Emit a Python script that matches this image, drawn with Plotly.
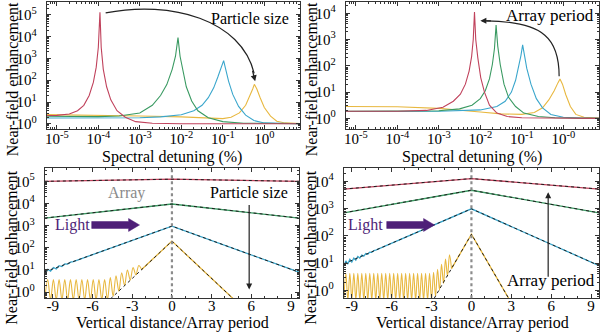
import plotly.graph_objects as go

W, H = 600, 336
FONT = "Liberation Serif"

RED = "#C0425C"
GREEN = "#3A9A62"
BLUE = "#3AA6CC"
YELLOW = "#E8B840"
DASHC = "#1e1e1e"
PURPLE = "#4E1F78"

# ---------------- top-left: spectral detuning, particle size sweep ----------------
TL_RED_X = [5.75e-6, 1e-5, 2e-5, 3.16e-5, 4.47e-5, 6.03e-5, 7.59e-5, 8.91e-5, 1.0e-4, 1.096e-4,
            1.175e-4, 1.318e-4, 1.585e-4, 2.0e-4, 2.82e-4, 4.47e-4, 7.94e-4, 2.0e-3, 1e-2, 7.24]
TL_RED_Y = [2.4, 2.45, 2.82, 3.98, 7.08, 19.95, 79.4, 398, 3162, 1.3e5,
            3162, 316, 50.1, 12.6, 3.98, 2.0, 1.26, 1.07, 1.0, 1.0]
TL_GREEN_X = [5.75e-6, 1e-4, 3.16e-4, 1e-3, 2.0e-3, 3.16e-3, 4.47e-3, 6.03e-3, 7.24e-3, 8.32e-3,
              9.33e-3, 1.096e-2, 1.318e-2, 1.778e-2, 2.51e-2, 4.47e-2, 0.1, 0.316, 7.24]
TL_GREEN_Y = [2.24, 2.14, 2.29, 3.16, 7.08, 19.95, 63.1, 316, 1259, 9000,
              1259, 251, 50.1, 11.2, 3.98, 1.9, 1.26, 1.07, 1.0]
TL_BLUE_X = [5.75e-6, 1e-4, 1e-3, 3.16e-3, 1e-2, 2.0e-2, 3.16e-2, 4.47e-2, 6.03e-2, 7.59e-2, 9.12e-2,
             0.1047, 0.1175, 0.138, 0.1738, 0.24, 0.355, 0.562, 1.0, 2.51, 7.24]
TL_BLUE_Y = [1.86, 1.86, 1.9, 2.09, 2.63, 3.98, 7.08, 15.8, 44.7, 141, 355,
             794, 316, 89.1, 22.4, 6.31, 2.51, 1.41, 1.1, 1.02, 1.0]
TL_YELLOW_X = [5.75e-6, 3.16e-5, 1e-4, 1e-3, 1e-2, 3.16e-2, 0.1, 0.158, 0.251, 0.355,
               0.447, 0.525, 0.575, 0.661, 0.794, 1.0, 1.413, 2.0, 3.16, 7.24]
TL_YELLOW_Y = [2.63, 2.57, 2.51, 2.29, 2.09, 1.86, 1.74, 2.0, 3.16, 7.08,
               17.8, 39.8, 65.0, 39.8, 15.8, 5.62, 2.24, 1.32, 1.1, 1.02]

# ---------------- top-right: spectral detuning, array period sweep ----------------
TR_RED_X = [5.75e-6, 1e-4, 5.01e-4, 1.26e-3, 2.24e-3, 3.31e-3, 4.37e-3, 5.37e-3, 6.17e-3, 6.76e-3,
            7.24e-3, 7.76e-3, 8.71e-3, 1.023e-2, 1.259e-2, 1.66e-2, 2.51e-2, 4.47e-2, 0.1, 7.24]
TR_RED_Y = [1.86, 1.86, 2.0, 2.63, 4.47, 8.32, 20, 63.1, 224, 1000,
            11220, 1000, 200, 35.5, 10, 3.16, 1.58, 1.17, 1.05, 1.0]
TR_GREEN_X = [5.75e-6, 1e-4, 1e-3, 3.16e-3, 6.31e-3, 1e-2, 1.318e-2, 1.66e-2, 1.95e-2, 2.19e-2,
              2.4e-2, 2.63e-2, 3.02e-2, 3.72e-2, 4.79e-2, 7.08e-2, 0.112, 0.251, 0.631, 7.24]
TR_GREEN_Y = [1.86, 1.86, 1.95, 2.29, 3.16, 5.62, 11.2, 31.6, 112, 447,
              3548, 562, 112, 20, 6.31, 2.82, 1.58, 1.17, 1.05, 1.0]
TR_BLUE_X = [5.75e-6, 1e-3, 1e-2, 2.51e-2, 3.98e-2, 5.62e-2, 7.08e-2, 8.51e-2, 9.55e-2, 0.1047,
             0.1148, 0.1318, 0.166, 0.224, 0.316, 0.501, 1.0, 2.51, 7.24]
TR_BLUE_Y = [1.82, 1.86, 2.09, 2.82, 4.47, 10, 28.2, 100, 251, 631,
             251, 79.4, 20, 5.62, 2.51, 1.41, 1.1, 1.02, 1.0]
TR_YELLOW_X = [5.75e-6, 1e-4, 1e-3, 3.16e-3, 1e-2, 3.16e-2, 0.1, 0.2, 0.316, 0.447,
               0.603, 0.741, 0.832, 0.955, 1.148, 1.479, 2.0, 3.16, 7.24]
TR_YELLOW_Y = [2.82, 2.75, 2.4, 2.09, 1.74, 1.48, 1.41, 1.66, 2.51, 5.01,
               11.2, 22.4, 31.6, 20, 7.94, 2.82, 1.41, 1.1, 1.02]

# ---------------- bottom-left: vertical profile, particle size sweep ----------------
BL_X = [-9.6, 0, 9.6]
BL_RED = [1.0e5, 1.25e5, 1.0e5]
BL_GREEN = [2.2e3, 9.5e3, 2.2e3]
BL_BLUE_FIT = [8.3, 950, 7.9]
BL_YELLOW_FIT = [8.1e-4, 200, 8.1e-4]
BL_BLUE_X = [-9.6, -9.385, -9.17, -8.955, -8.74, -8.525, -8.31, -8.095, -7.88, -7.665, -7.45, 0, 9.6]
BL_BLUE_Y = [7.1, 10.7, 8.9, 12.9, 11.2, 15.5, 14.3, 18.8, 18.2, 22.6, 23.9, 950, 7.9]
BL_YOSC_X = [-9.6, -9.385, -9.17, -8.955, -8.74, -8.525, -8.31, -8.095, -7.88, -7.665,
             -7.45, -7.235, -7.02, -6.805, -6.59, -6.375, -6.16, -5.945, -5.73, -5.515,
             -5.3, -5.085, -4.87, -4.655, -4.44, -4.225, -4.01, -3.795, -3.58, -3.365,
             -3.15, -2.935, -2.72, -2.505, -2.29]
BL_YOSC_Y = [0.45, 3.7, 0.45, 3.7, 0.45, 3.7, 0.45, 3.7, 0.45, 3.7,
             0.45, 3.7, 0.45, 3.7, 0.45, 3.7, 0.45, 3.7, 0.45, 3.7,
             0.45, 3.7, 0.45, 4.5, 0.65, 5.5, 1.1, 7.5, 2.0, 10,
             3.5, 13, 6.0, 16, 10.5]
BL_YLINE_X = [-2.29, 0, 9.6]
BL_YLINE_Y = [10.5, 200, 8.1e-4]

# ---------------- bottom-right: vertical profile, array period sweep ----------------
BR_X = [-9.6, 0, 9.6]
BR_RED = [5.2e3, 1.26e4, 5.2e3]
BR_GREEN = [700, 4.7e3, 700]
BR_BLUE_FIT = [9.4, 980, 8.1]
BR_YELLOW_FIT = [1e-6, 115, 1e-6]
BR_BLUE_X = [-9.6, -9.45, -9.3, -9.15, -9.0, -8.85, -8.7, -8.55, -8.4, -8.25, -8.1, -7.95,
             -7.8, -7.65, -7.5, -7.35, -7.2, 0, 9.6]
BR_BLUE_Y = [7.8, 12.0, 9.2, 13.7, 11.0, 15.4, 12.9, 17.6, 15.3, 19.7, 18.1, 22.4,
             21.2, 25.4, 25.0, 28.7, 30, 980, 8.1]
BR_YOSC_X = [-9.6, -9.45, -9.3, -9.15, -9.0, -8.85, -8.7, -8.55, -8.4, -8.25,
             -8.1, -7.95, -7.8, -7.65, -7.5, -7.35, -7.2, -7.05, -6.9, -6.75,
             -6.6, -6.45, -6.3, -6.15, -6.0, -5.85, -5.7, -5.55, -5.4, -5.25,
             -5.1, -4.95, -4.8, -4.65, -4.5, -4.35, -4.2, -4.05, -3.9, -3.75,
             -3.6, -3.45, -3.3, -3.15, -3.0, -2.85, -2.7, -2.55, -2.4, -2.25,
             -2.1, -1.95, -1.8, -1.65, -1.5]
BR_YOSC_Y = [0.45, 4.2, 0.45, 4.2, 0.45, 4.2, 0.45, 4.2, 0.45, 4.2,
             0.45, 4.2, 0.45, 4.2, 0.45, 4.2, 0.45, 4.2, 0.45, 4.2,
             0.45, 4.2, 0.45, 4.2, 0.45, 4.2, 0.45, 4.2, 0.45, 4.2,
             0.45, 4.2, 0.45, 4.2, 0.45, 4.2, 0.45, 4.2, 0.45, 4.2,
             0.45, 4.2, 0.45, 4.2, 0.45, 4.6, 0.6, 6.0, 1.0, 9.0,
             1.8, 14, 3.3, 20, 6.3]
BR_YLINE_X = [-1.5, 0, 9.6]
BR_YLINE_Y = [6.3, 115, 1e-6]

# ---------------- tick labels ----------------
DET_TICKS = [1e-5, 1e-4, 1e-3, 1e-2, 1e-1, 1]
TL_DET_LABELS = ["10<sup>-5</sup>", "10<sup>-4</sup>", "10<sup>-3</sup>", "10<sup>-2</sup>",
                 "10<sup>-1</sup>", "10<sup>0</sup>"]
TR_DET_LABELS = ["10<sup>-5</sup>", "10<sup>-4</sup>", "10<sup>-3</sup>", "10<sup>-2</sup>",
                 "10<sup>-1</sup>", "10<sup>-0</sup>"]
ENH5_TICKS = [1, 10, 100, 1e3, 1e4, 1e5]
ENH5_LABELS = ["10<sup>0</sup>", "10<sup>1</sup>", "10<sup>2</sup>", "10<sup>3</sup>",
               "10<sup>4</sup>", "10<sup>5</sup>"]
ENH4_TICKS = [1, 10, 100, 1e3, 1e4]
ENH4_LABELS = ["10<sup>0</sup>", "10<sup>1</sup>", "10<sup>2</sup>", "10<sup>3</sup>", "10<sup>4</sup>"]
DIST_TICKS = [-9, -6, -3, 0, 3, 6, 9]
DIST_LABELS = ["-9", "-6", "-3", "0", "3", "6", "9"]


def px(x):
    return x / W


def py(y):
    return 1 - y / H


fig = go.Figure()


def add(x, y, color, xa, ya, width=1.1, dash=None, shape="linear"):
    fig.add_trace(go.Scatter(x=x, y=y, mode="lines",
                             line=dict(color=color, width=width, dash=dash, shape=shape),
                             xaxis=xa, yaxis=ya, showlegend=False, hoverinfo="skip"))


# top-left
add(TL_YELLOW_X, TL_YELLOW_Y, YELLOW, "x", "y")
add(TL_BLUE_X, TL_BLUE_Y, BLUE, "x", "y")
add(TL_GREEN_X, TL_GREEN_Y, GREEN, "x", "y")
add(TL_RED_X, TL_RED_Y, RED, "x", "y")
# top-right
add(TR_YELLOW_X, TR_YELLOW_Y, YELLOW, "x2", "y2")
add(TR_BLUE_X, TR_BLUE_Y, BLUE, "x2", "y2")
add(TR_GREEN_X, TR_GREEN_Y, GREEN, "x2", "y2")
add(TR_RED_X, TR_RED_Y, RED, "x2", "y2")
# bottom-left
add(BL_YOSC_X, BL_YOSC_Y, YELLOW, "x3", "y3", 1.1, None, "spline")
add(BL_YLINE_X, BL_YLINE_Y, YELLOW, "x3", "y3", 1.3)
add(BL_BLUE_X, BL_BLUE_Y, BLUE, "x3", "y3", 1.3)
add(BL_X, BL_GREEN, GREEN, "x3", "y3", 1.3)
add(BL_X, BL_RED, RED, "x3", "y3", 1.3)
for ys in (BL_RED, BL_GREEN, BL_BLUE_FIT, BL_YELLOW_FIT):
    add(BL_X, ys, DASHC, "x3", "y3", 1.0, "3px,3px")
# bottom-right
add(BR_YOSC_X, BR_YOSC_Y, YELLOW, "x4", "y4", 1.1, None, "spline")
add(BR_YLINE_X, BR_YLINE_Y, YELLOW, "x4", "y4", 1.3)
add(BR_BLUE_X, BR_BLUE_Y, BLUE, "x4", "y4", 1.3)
add(BR_X, BR_GREEN, GREEN, "x4", "y4", 1.3)
add(BR_X, BR_RED, RED, "x4", "y4", 1.3)
for ys in (BR_RED, BR_GREEN, BR_BLUE_FIT, BR_YELLOW_FIT):
    add(BR_X, ys, DASHC, "x4", "y4", 1.0, "3px,3px")

common = dict(showline=True, linecolor="#333", linewidth=1, mirror="ticks", ticks="inside",
              ticklen=4, tickwidth=1, tickcolor="#333", showgrid=False, zeroline=False,
              tickfont=dict(family=FONT, size=15, color="black"), tickmode="array")
logminor = dict(ticks="inside", ticklen=2, tickcolor="#333", dtick="D1", showgrid=False)
linminor = dict(ticks="inside", ticklen=2, tickcolor="#333", dtick=1, showgrid=False)

top_dom = [py(130), py(2)]
bot_dom = [py(301), py(170)]

fig.update_layout(
    width=W, height=H, margin=dict(l=0, r=0, t=0, b=0),
    paper_bgcolor="white", plot_bgcolor="white",
    font=dict(family=FONT, color="black"),
    xaxis=dict(common, type="log", range=[-5.24, 0.86], domain=[px(45), px(299)], anchor="y",
               tickvals=DET_TICKS, ticktext=TL_DET_LABELS, minor=logminor, ticklabelstandoff=-4),
    yaxis=dict(common, type="log", range=[-0.23, 5.59], domain=top_dom, anchor="x",
               tickvals=ENH5_TICKS, ticktext=ENH5_LABELS, minor=logminor, ticklabelstandoff=6),
    xaxis2=dict(common, type="log", range=[-5.24, 0.86], domain=[px(345), px(599)], anchor="y2",
                tickvals=DET_TICKS, ticktext=TR_DET_LABELS, minor=logminor, ticklabelstandoff=-4),
    yaxis2=dict(common, type="log", range=[-0.40, 4.43], domain=top_dom, anchor="x2",
                tickvals=ENH4_TICKS, ticktext=ENH4_LABELS, minor=logminor, ticklabelstandoff=6),
    xaxis3=dict(common, type="linear", range=[-9.6, 9.6], domain=[px(43), px(298)], anchor="y3",
                tickvals=DIST_TICKS, ticktext=DIST_LABELS, minor=linminor, ticklabelstandoff=-6),
    yaxis3=dict(common, type="log", range=[-0.28, 5.58], domain=bot_dom, anchor="x3",
                tickvals=ENH5_TICKS, ticktext=ENH5_LABELS, minor=logminor, ticklabelstandoff=6),
    xaxis4=dict(common, type="linear", range=[-9.6, 9.6], domain=[px(343), px(599)], anchor="y4",
                tickvals=DIST_TICKS, ticktext=DIST_LABELS, minor=linminor, ticklabelstandoff=-6),
    yaxis4=dict(common, type="log", range=[-0.29, 4.47], domain=bot_dom, anchor="x4",
                tickvals=ENH4_TICKS, ticktext=ENH4_LABELS, minor=logminor, ticklabelstandoff=6),
)

ann = []


def text(t, x, y, size=16, color="black", angle=0):
    ann.append(dict(text=t, x=px(x), y=py(y), xref="paper", yref="paper", showarrow=False,
                    xanchor="center", yanchor="middle", textangle=angle,
                    font=dict(family=FONT, size=size, color=color)))


def arrow(x, y, ax, ay, color="#222", width=1.2, size=1.0):
    ann.append(dict(text="", x=px(x), y=py(y), xref="paper", yref="paper", showarrow=True,
                    ax=ax, ay=ay, arrowhead=2, arrowsize=size, arrowwidth=width,
                    arrowcolor=color, standoff=0, startstandoff=0))


# axis titles
for cx, cy in ((10, 80), (310, 80), (10, 250), (310, 250)):
    text("Near-field enhancement", cx, cy, 16, "black", -90)
text("Spectral detuning (%)", 171, 158)
text("Spectral detuning (%)", 472, 158)
text("Vertical distance/Array period", 171, 326)
text("Vertical distance/Array period", 472, 326)

# panel annotations
text("Particle size", 249, 19, 16)
text("Array period", 550, 16, 17)
text("Array", 125, 195, 16, "#8a8a8a")
text("Particle size", 248, 194, 16)
text("Light", 71, 227, 16, PURPLE)
text("Light", 365, 227, 16, PURPLE)
text("Array period", 551, 283, 17)

arrow(248, 292, 0, -86)
arrow(548, 194, 0, 86)
arrow(254, 82, -3, -12)
arrow(480, 21, 12, 0)

fig.update_layout(annotations=ann)


def ppath(pts, close=True):
    s = "M " + " L ".join(f"{px(a):.5f},{py(b):.5f}" for a, b in pts)
    return s + (" Z" if close else "")


shapes = []
# curved arrows
shapes.append(dict(type="path", xref="paper", yref="paper",
                   path=(f"M {px(104):.5f},{py(13):.5f} C {px(170):.5f},{py(0):.5f} "
                         f"{px(240):.5f},{py(20):.5f} {px(253):.5f},{py(74):.5f}"),
                   line=dict(color="#222", width=1.2)))
shapes.append(dict(type="path", xref="paper", yref="paper",
                   path=(f"M {px(559):.5f},{py(77):.5f} C {px(559):.5f},{py(40):.5f} "
                         f"{px(545):.5f},{py(22):.5f} {px(486):.5f},{py(21):.5f}"),
                   line=dict(color="#222", width=1.2)))
# thick "Light" arrows
for x0 in (90, 386):
    pts = [(x0, 223.5), (x0 + 37, 223.5), (x0 + 37, 220.5), (x0 + 48, 227),
           (x0 + 37, 233.5), (x0 + 37, 230.5), (x0, 230.5)]
    shapes.append(dict(type="path", xref="paper", yref="paper", path=ppath(pts),
                       fillcolor=PURPLE, line=dict(color=PURPLE, width=0.5)))
# array plane (dotted vertical line at 0)
for xr, yr in (("x3", "y3 domain"), ("x4", "y4 domain")):
    shapes.append(dict(type="line", xref=xr, yref=yr, x0=0, x1=0, y0=0, y1=1,
                       line=dict(color="#8c8c8c", width=2.2, dash="dot"), layer="above"))

fig.update_layout(shapes=shapes)
fig.write_html("out.html")
